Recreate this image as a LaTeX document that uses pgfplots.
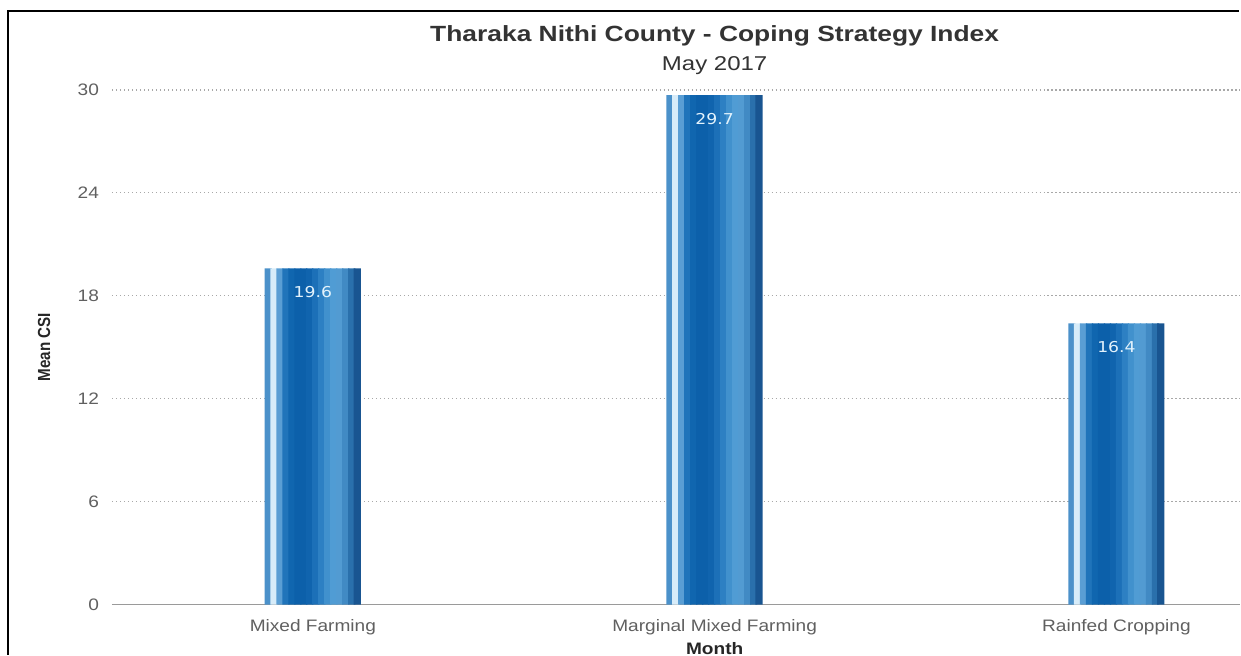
\documentclass[border=0pt]{standalone}
\usepackage{pgfplots}
\pgfplotsset{compat=1.18}
\usepackage{fontspec}
\setmainfont{Liberation Sans}
\newfontfamily\labelfont{DejaVu Sans}
\newcommand{\wide}[1]{\scalebox{1.15}[1]{#1}}
\newcommand{\widet}[1]{\scalebox{1.2}[1]{#1}}
\definecolor{titlegray}{HTML}{333333}
\definecolor{tickgray}{HTML}{606060}
\definecolor{gridgray}{HTML}{A8A8A8}
\definecolor{basegray}{HTML}{9A9A9A}
\definecolor{lblcol}{HTML}{E2F2FC}
\definecolor{s0}{RGB}{75,145,202}
\definecolor{s1}{RGB}{215,236,249}
\definecolor{s2}{RGB}{90,158,212}
\definecolor{s3}{RGB}{32,116,186}
\definecolor{s4}{RGB}{16,102,175}
\definecolor{s5}{RGB}{12,96,170}
\definecolor{s6}{RGB}{12,96,170}
\definecolor{s7}{RGB}{16,100,174}
\definecolor{s8}{RGB}{28,112,184}
\definecolor{s9}{RGB}{45,128,195}
\definecolor{s10}{RGB}{65,145,205}
\definecolor{s11}{RGB}{80,156,212}
\definecolor{s12}{RGB}{82,155,210}
\definecolor{s13}{RGB}{65,138,196}
\definecolor{s14}{RGB}{42,112,172}
\definecolor{s15}{RGB}{25,85,145}
\pgfplotsset{
  strip/.style 2 args={ybar, bar width=3.6pt, bar shift=#1, draw=none, fill=#2},
}
\pgfplotstableread{
x y
0 19.6
1 29.7
2 16.4
}\csidata
\begin{document}
\begin{tikzpicture}
\path (0,0) rectangle (620.5pt,328pt);
\draw[line width=1pt] (4pt,0.5pt) -- (4pt,322.5pt) -- (620pt,322.5pt);
\node[font=\bfseries\fontsize{11}{13}\selectfont, text=titlegray] at (357.5pt,310pt) {\widet{Tharaka Nithi County - Coping Strategy Index}};
\node[font=\fontsize{10}{12}\selectfont, text=titlegray] at (357.5pt,295pt) {\widet{May 2017}};
\begin{axis}[
  at={(56pt,25.5pt)}, anchor=south west,
  width=564.5pt, height=257.5pt, scale only axis,
  xmin=-0.5, xmax=2.3085, ymin=0, ymax=30,
  xtick={0,1,2},
  xticklabels={\wide{Mixed Farming}, \wide{Marginal Mixed Farming}, \wide{Rainfed Cropping}},
  ytick={6,12,18,24,30},
  extra y ticks={0},
  extra y tick style={grid style={solid, draw=basegray, line width=0.6pt}},
  ymajorgrids,
  grid style={draw=gridgray, line width=0.6pt, dash pattern=on 0.6pt off 1.4pt},
  axis line style={draw=none},
  major tick length=0pt,
  ticklabel style={font=\fontsize{8.3}{10}\selectfont, text=tickgray},
  yticklabel={\wide{\pgfmathprintnumber[assume math mode=true]{\tick}}},
  yticklabel style={xshift=-3pt},
  xticklabel style={yshift=-4pt},
  every axis y label/.style={at={(axis description cs:-0.0602,0.5)}, rotate=90, anchor=center, font=\bfseries\fontsize{7.6}{9}\selectfont, text=black!85},
  ylabel={\scalebox{1}[1.15]{Mean CSI}},
  every axis x label/.style={at={(axis cs:1,0)}, anchor=north, inner sep=0pt, yshift=-18.5pt, font=\bfseries\fontsize{8.3}{10}\selectfont, text=black!85},
  xlabel={\wide{Month}},
]
\addplot[strip={-22.3pt}{s0}] table[x=x,y=y] {\csidata};
\addplot[strip={-19.5pt}{s1}] table[x=x,y=y] {\csidata};
\addplot[strip={-16.5pt}{s2}] table[x=x,y=y] {\csidata};
\addplot[strip={-13.5pt}{s3}] table[x=x,y=y] {\csidata};
\addplot[strip={-10.5pt}{s4}] table[x=x,y=y] {\csidata};
\addplot[strip={-7.5pt}{s5}] table[x=x,y=y] {\csidata};
\addplot[strip={-4.5pt}{s6}] table[x=x,y=y] {\csidata};
\addplot[strip={-1.5pt}{s7}] table[x=x,y=y] {\csidata};
\addplot[strip={1.5pt}{s8}] table[x=x,y=y] {\csidata};
\addplot[strip={4.5pt}{s9}] table[x=x,y=y] {\csidata};
\addplot[strip={7.5pt}{s10}] table[x=x,y=y] {\csidata};
\addplot[strip={10.5pt}{s11}] table[x=x,y=y] {\csidata};
\addplot[strip={13.5pt}{s12}] table[x=x,y=y] {\csidata};
\addplot[strip={16.5pt}{s13}] table[x=x,y=y] {\csidata};
\addplot[strip={19.5pt}{s14}] table[x=x,y=y] {\csidata};
\addplot[strip={22.2pt}{s15}] table[x=x,y=y] {\csidata};
\addplot[draw=none, mark=none, nodes near coords={\wide{\pgfmathprintnumber[assume math mode=true,fixed,precision=1]{\pgfplotspointmeta}}},
  nodes near coords style={anchor=north, yshift=-5.5pt, font=\labelfont\fontsize{7.5}{9}\selectfont, text=lblcol}]
  table[x=x,y=y] {\csidata};
\end{axis}
\end{tikzpicture}
\end{document}
